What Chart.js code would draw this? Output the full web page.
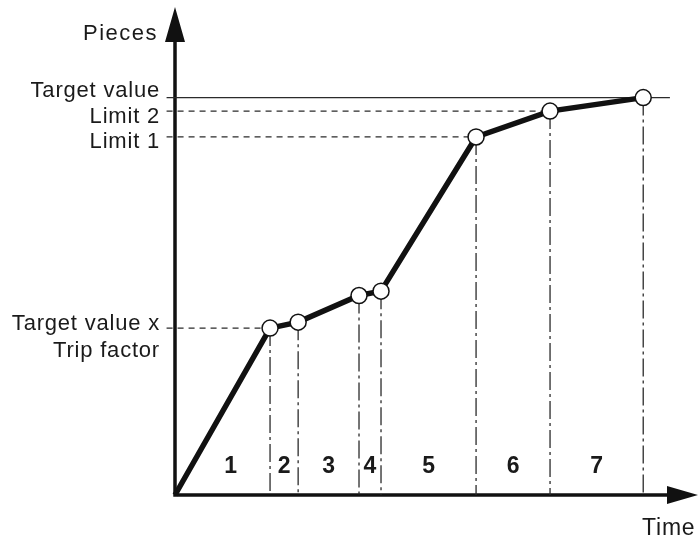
<!DOCTYPE html>
<html>
<head>
<meta charset="utf-8">
<script src="https://cdn.jsdelivr.net/npm/chart.js@4.4.1/dist/chart.umd.min.js"></script>
<style>
  body { margin: 0; background: #fff; overflow: hidden; }
  canvas { display: block; }
</style>
</head>
<body>
<canvas id="myChart" width="699" height="539"></canvas>
<script>
// switching points: time (x) and pieces (y), target value = 100
let timeValues = [0, 20.3, 26.3, 39.3, 44.0, 64.3, 80.1, 100]
let pieceValues = [0, 42.0, 43.5, 50.2, 51.3, 90.1, 96.6, 100]
let phaseLabels = ['1', '2', '3', '4', '5', '6', '7']
// labels on the pieces axis and the point each one belongs to
let levelLabels = [['Target value'], ['Limit 2'], ['Limit 1'], ['Target value x', 'Trip factor']]
let levelPoints = [7, 6, 5, 1]
let yAxisTitle = 'Pieces'
let xAxisTitle = 'Time'

let ink = '#111'
let thin = '#2b2b2b'
let font = '22px "Liberation Sans", Arial, sans-serif'
let tickOut = -1.8 // guide lines stick out a little left of the axis

let curve = timeValues.map((t, i) => ({ x: t, y: pieceValues[i] }))

let datasets = [{
  data: curve,
  borderColor: ink,
  borderWidth: 5.5,
  pointRadius: curve.map((p, i) => i == 0 ? 0 : 8),
  pointBackgroundColor: '#fff',
  pointBorderColor: ink,
  pointBorderWidth: 1.5,
  clip: false
}]

// dash-dot lines down from every point to the time axis
for (let i = 1; i < timeValues.length; i++) {
  datasets.push({
    data: [{ x: timeValues[i], y: pieceValues[i] }, { x: timeValues[i], y: 0 }],
    borderColor: thin,
    borderWidth: 1.3,
    borderDash: [18, 4, 3, 4],
    pointRadius: 0,
    clip: false
  })
}

// level lines across to the pieces axis
levelPoints.forEach((p, k) => {
  let target = k == 0
  datasets.push({
    data: [{ x: tickOut, y: pieceValues[p] }, { x: target ? 105.7 : timeValues[p], y: pieceValues[p] }],
    borderColor: thin,
    borderWidth: 1.3,
    borderDash: target ? [] : [6, 5],
    pointRadius: 0,
    clip: false
  })
})

let drawing = {
  id: 'drawing',
  beforeDatasetsDraw(chart) {
    let { ctx, chartArea: a, scales: { x, y } } = chart
    let x0 = x.getPixelForValue(0), y0 = y.getPixelForValue(0)
    ctx.save()
    ctx.fillStyle = ctx.strokeStyle = ink
    ctx.lineWidth = 3.5
    ctx.beginPath()
    ctx.moveTo(x0, y0 + 1.5); ctx.lineTo(x0, a.top + 30)
    ctx.moveTo(x0 - 1.7, y0); ctx.lineTo(a.right - 28, y0)
    ctx.stroke()
    ctx.beginPath()
    ctx.moveTo(x0, a.top); ctx.lineTo(x0 - 10, a.top + 35); ctx.lineTo(x0 + 10, a.top + 35); ctx.closePath()
    ctx.moveTo(a.right, y0); ctx.lineTo(a.right - 31, y0 - 9); ctx.lineTo(a.right - 31, y0 + 9); ctx.closePath()
    ctx.fill()
    ctx.restore()
  },
  afterDraw(chart) {
    let { ctx, chartArea: a, scales: { x, y } } = chart
    let x0 = x.getPixelForValue(0), y0 = y.getPixelForValue(0)
    ctx.save()
    ctx.fillStyle = '#1a1a1a'
    ctx.font = font
    ctx.textBaseline = 'alphabetic'

    ctx.textAlign = 'right'
    ctx.letterSpacing = '1.5px'
    ctx.fillText(yAxisTitle, x0 - 17, a.top + 33)
    ctx.letterSpacing = '0.8px'
    let shifts = [-1, 12, 11, 2]
    levelLabels.forEach((lines, k) => {
      let ly = y.getPixelForValue(pieceValues[levelPoints[k]])
      lines.forEach((txt, j) => ctx.fillText(txt, x0 - 15, ly + shifts[k] + j * 27))
    })

    ctx.textAlign = 'left'
    ctx.font = '23px "Liberation Sans", Arial, sans-serif'
    ctx.fillText(xAxisTitle, a.right - 56, y0 + 40)

    // phase numbers between the dash-dot lines
    ctx.font = 'bold 23px "Liberation Sans", Arial, sans-serif'
    ctx.letterSpacing = '0px'
    ctx.textAlign = 'center'
    ctx.textBaseline = 'middle'
    let ny = y0 - 28.5
    let nv = y.getValueForPixel(ny)
    phaseLabels.forEach((lab, i) => {
      let left = i == 0 ? timeValues[1] * nv / pieceValues[1] : timeValues[i]
      let cx = (x.getPixelForValue(left) + x.getPixelForValue(timeValues[i + 1])) / 2
      ctx.fillText(lab, cx, ny)
    })
    ctx.restore()
  }
}

new Chart(document.getElementById('myChart'), {
  type: 'line',
  data: { datasets: datasets },
  options: {
    responsive: false,
    animation: false,
    devicePixelRatio: 1,
    layout: { autoPadding: false, padding: { left: 175, top: 7, right: 1, bottom: 44 } },
    plugins: { legend: { display: false }, tooltip: { enabled: false } },
    scales: {
      x: { type: 'linear', min: 0, max: 111.7, display: false },
      y: { type: 'linear', min: 0, max: 122.8, display: false }
    }
  },
  plugins: [drawing]
})
</script>
</body>
</html>
